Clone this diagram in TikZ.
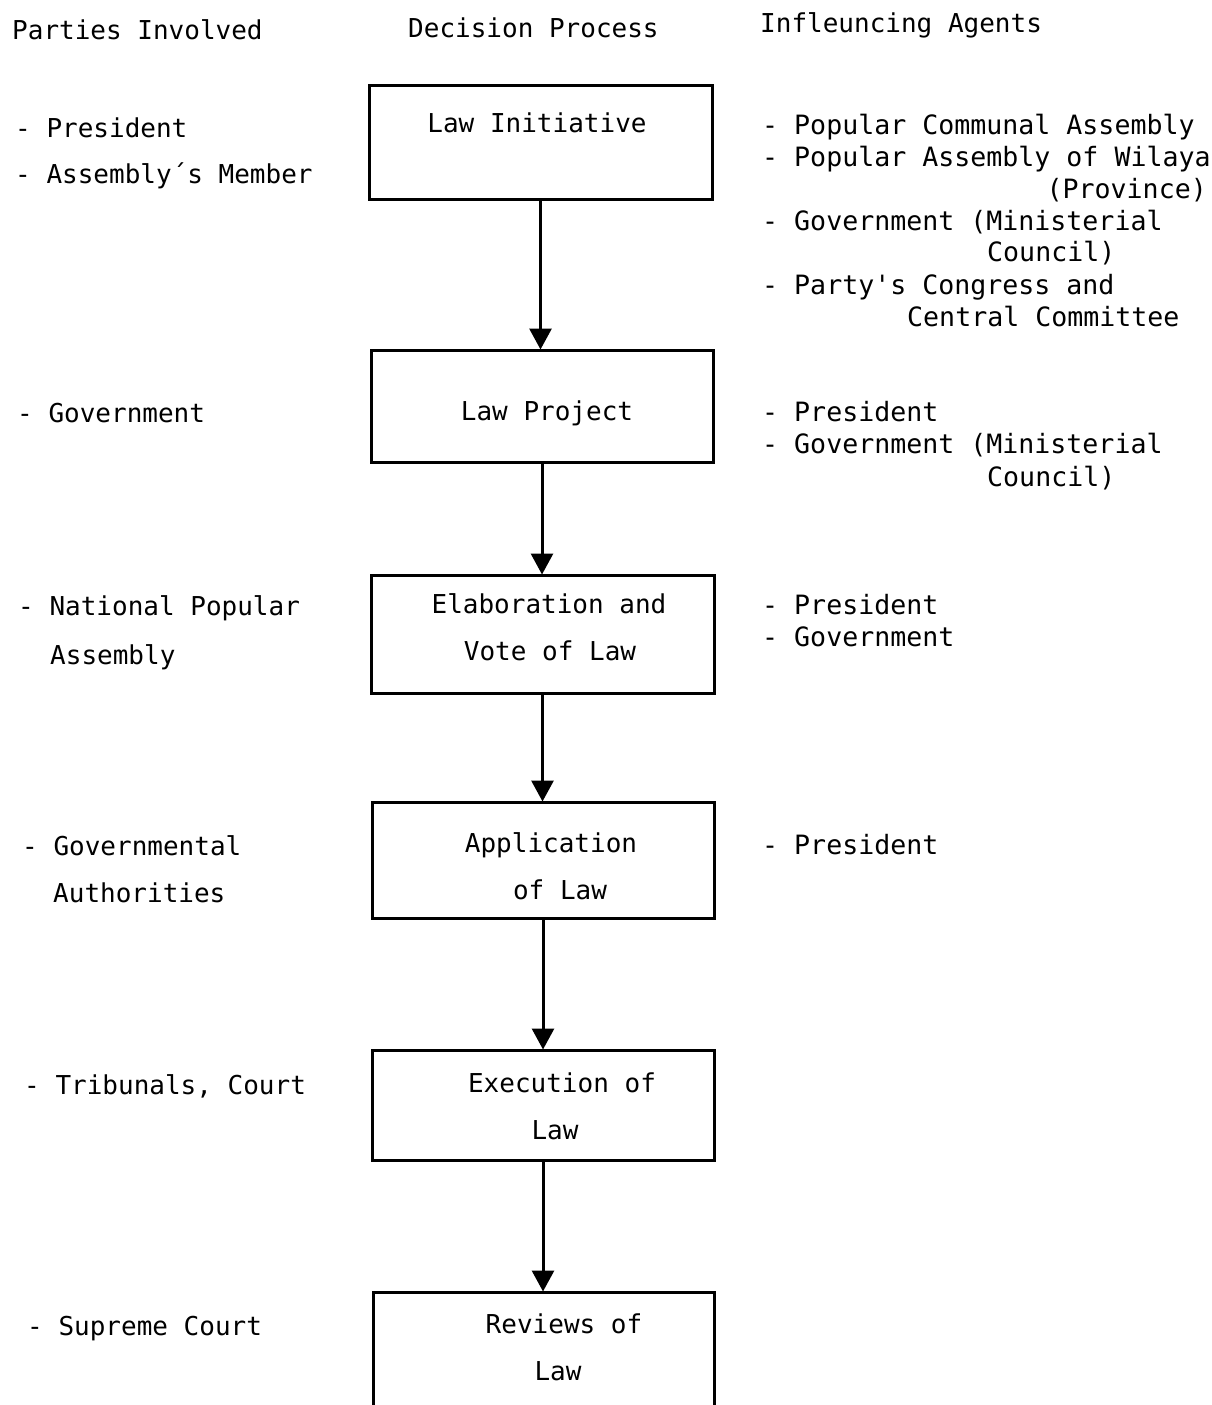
\documentclass[tikz,border=0pt]{standalone}
\usepackage{fontspec}
\setmonofont{DejaVu Sans Mono}
\usetikzlibrary{arrows.meta}
\begin{document}
\begin{tikzpicture}[x=1pt,y=-1pt,
  txt/.style={font=\fontsize{26}{30}\selectfont\ttfamily, inner sep=0pt, anchor=mid west, yshift=-7pt},
  agent/.style={txt, font=\fontsize{26.6}{30}\selectfont\ttfamily},
  agentr/.style={agent, anchor=mid east},
  ctxt/.style={txt, anchor=mid},
  stage/.style={draw, line width=3pt, inner sep=0pt},
  flow/.style={line width=3pt, -{Triangle[width=22pt,length=21pt]}, shorten >=-1pt}]
\useasboundingbox (0,0) rectangle (1212,1405);
\clip (0,0) rectangle (1212,1405);

% column headings
\node[txt] (h1) at (12,30) {Parties Involved};
\node[txt] (h2) at (408,28) {Decision Process};
\node[txt] (h3) at (760,23) {Infleuncing Agents};

% stages of the decision process
\node[stage, minimum width=343pt, minimum height=114pt] (b1) at (540.5,142) {};
\node[stage, minimum width=342pt, minimum height=112pt] (b2) at (542,406) {};
\node[stage, minimum width=343pt, minimum height=118pt] (b3) at (542.5,634) {};
\node[stage, minimum width=342pt, minimum height=116pt] (b4) at (543,860) {};
\node[stage, minimum width=342pt, minimum height=110pt] (b5) at (543,1105) {};
\node[stage, minimum width=341pt, minimum height=140pt] (b6) at (543.5,1362) {};

\node[ctxt] (t1) at (537,123) {Law Initiative};
\node[ctxt] (t2) at (547,411) {Law Project};
\node[ctxt] (t3a) at (549,604) {Elaboration and};
\node[ctxt] (t3b) at (550,651) {Vote of Law};
\node[ctxt] (t4a) at (551,843) {Application};
\node[ctxt] (t4b) at (560,890) {of Law};
\node[ctxt] (t5a) at (562,1083) {Execution of};
\node[ctxt] (t5b) at (555,1130) {Law};
\node[ctxt] (t6a) at (564,1324) {Reviews of};
\node[ctxt] (t6b) at (558,1371) {Law};

% flow between stages
\draw[flow] (b1.south) -- (b1.south |- b2.north);
\draw[flow] (b2.south) -- (b2.south |- b3.north);
\draw[flow] (b3.south) -- (b3.south |- b4.north);
\draw[flow] (b4.south) -- (b4.south |- b5.north);
\draw[flow] (b5.south) -- (b5.south |- b6.north);

% parties involved
\node[txt] (p1a) at (15,128) {- President};
\node[txt] (p1b) at (15,174) {- Assembly´s Member};
\node[txt] (p2) at (17,413) {- Government};
\node[txt] (p3a) at (18,606) {- National Popular};
\node[txt] (p3b) at (50,655) {Assembly};
\node[txt] (p4a) at (22,846) {- Governmental};
\node[txt] (p4b) at (53,893) {Authorities};
\node[txt] (p5) at (24,1085) {- Tribunals, Court};
\node[txt] (p6) at (27,1326) {- Supreme Court};

% influencing agents
\node[agent] (a1a) at (762,125) {- Popular Communal Assembly};
\node[agent] (a1b) at (762,157) {- Popular Assembly of Wilaya};
\node[agentr] (a1c) at (1207,189) {(Province)};
\node[agent] (a1d) at (762,221) {- Government (Ministerial};
\node[agent] (a1e) at (987,252) {Council)};
\node[agent] (a1f) at (762,285) {- Party's Congress and};
\node[agent] (a1g) at (907,317) {Central Committee};
\node[agent] (a2a) at (762,412) {- President};
\node[agent] (a2b) at (762,444) {- Government (Ministerial};
\node[agent] (a2c) at (987,477) {Council)};
\node[agent] (a3a) at (762,605) {- President};
\node[agent] (a3b) at (762,637) {- Government};
\node[agent] (a4) at (762,845) {- President};
\end{tikzpicture}
\end{document}
